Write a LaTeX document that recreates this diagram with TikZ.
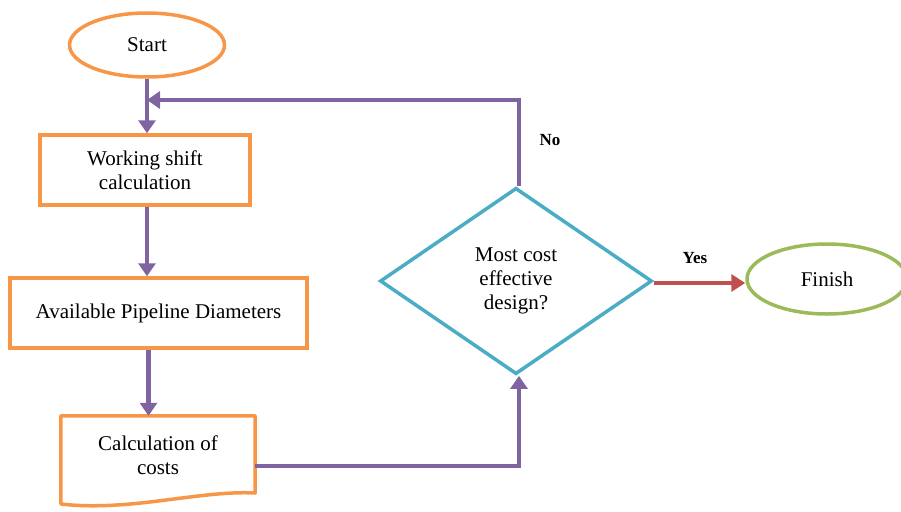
\documentclass[tikz,border=0pt]{standalone}
\usepackage{fontspec}
\setmainfont{Liberation Serif}
\usetikzlibrary{shapes.geometric,arrows.meta}
\definecolor{orng}{HTML}{F79646}
\definecolor{purp}{HTML}{8064A2}
\definecolor{cyanb}{HTML}{4BACC6}
\definecolor{redd}{HTML}{C0504D}
\definecolor{grn}{HTML}{9BBB59}
\tikzset{
  txt/.style={font=\fontsize{21}{24}\selectfont, align=center},
  lbl/.style={font=\fontsize{17}{20}\selectfont\bfseries},
  procbox/.style={txt, draw=orng, line width=3.5pt, rectangle, inner sep=0pt},
  termo/.style={txt, draw=orng, line width=3.5pt, ellipse, inner sep=0pt},
  termg/.style={txt, draw=grn, line width=3.5pt, ellipse, inner sep=0pt},
  decide/.style={txt, draw=cyanb, line width=3.5pt, diamond, inner sep=0pt},
  flow/.style={draw=purp, line width=4.5pt, -{Triangle[length=13pt,width=17pt]}},
  yesflow/.style={draw=redd, line width=4pt, -{Triangle[length=14pt,width=17pt]}},
}
\begin{document}
\begin{tikzpicture}[x=1pt,y=-1pt]
\useasboundingbox (0,0) rectangle (901,511);
\clip (0,0) rectangle (901,511);

\node[termo, minimum width=155, minimum height=64] (start) at (147,45) {Start};
\node[procbox, minimum width=210, minimum height=70] (b1) at (145,170) {Working shift\\calculation};
\node[procbox, minimum width=297, minimum height=70] (b2) at (158.5,313) {Available Pipeline Diameters};
\node[txt, minimum width=194, minimum height=78, inner sep=0pt] (doc) at (158,455) {Calculation of\\costs};
\draw[draw=orng, line width=3.5pt, line join=round]
  (doc.north west) -- (doc.north east) -- ([yshift=-38]doc.east)
  .. controls (200,490) and (130,512) .. (61,504) -- cycle;
\node[decide, minimum width=272, minimum height=186] (dia) at (516,281) {\raisebox{-3pt}{\parbox{120pt}{\centering Most cost\\effective\\design?}}};
\node[termg, minimum width=160, minimum height=70] (fin) at (827,279) {Finish};

\coordinate (join) at (147,100);
\coordinate (turn) at (519,100);
\coordinate (docout) at (255,466);
\coordinate (bend) at (519,466);
\coordinate (s1) at ([xshift=2]b1.south);
\coordinate (s2) at ([xshift=-10]b2.south);

\draw[flow] (start.south) -- (start.south |- b1.north);
\draw[flow] (s1) -- (s1 |- b2.north);
\draw[flow] (s2) -- (s2 |- doc.north);
\draw[flow] (docout) -- (bend) -- ([xshift=3]dia.south);
\draw[flow] ([xshift=3]dia.north) -- (turn) -- (join);
\draw[yesflow] ([yshift=-2]dia.east) -- ([yshift=-2]dia.east -| fin.west);

\node[lbl] (no) at (550,140) {No};
\node[lbl] (yes) at (695,258) {Yes};
\end{tikzpicture}
\end{document}
